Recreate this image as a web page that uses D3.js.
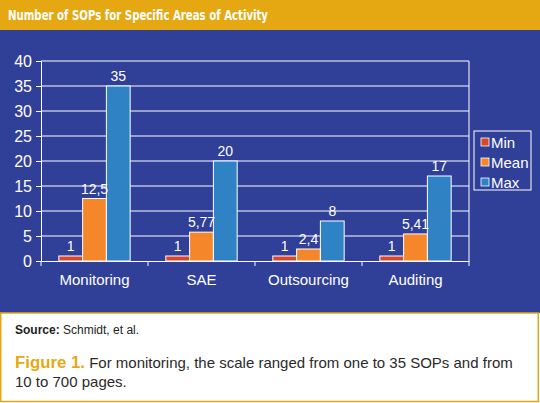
<!DOCTYPE html>
<html>
<head>
<meta charset="utf-8">
<script src="https://cdn.jsdelivr.net/npm/d3@7"></script>
<style>
  body { margin: 0; background: #fff; }
  svg { display: block; }
</style>
</head>
<body>
<div id="chart"></div>
<script>

// Data
var categories = ["Monitoring", "SAE", "Outsourcing", "Auditing"];
var seriesNames = ["Min", "Mean", "Max"];
var minValues = [1, 1, 1, 1];
var meanValues = [12.5, 5.77, 2.4, 5.41];
var maxValues = [35, 20, 8, 17];
var yTicks = [0, 5, 10, 15, 20, 25, 30, 35, 40];

var W = 540, H = 403;
var gold = "#e6a812";
var navy = "#303f98";
var colors = ["#d9472b", "#f5862a", "#2f82c4"];

var svg = d3.select("#chart").append("svg")
  .attr("width", W)
  .attr("height", H);

// Background panels
svg.append("rect").attr("x", 0).attr("y", 0).attr("width", W).attr("height", 30).attr("fill", gold);
svg.append("rect").attr("x", 0).attr("y", 30).attr("width", W).attr("height", 283).attr("fill", navy);
svg.append("rect").attr("x", 0.75).attr("y", 313).attr("width", W - 2.5).attr("height", H - 314.5)
  .attr("fill", "#fff").attr("stroke", gold).attr("stroke-width", 1.5);

// Title
svg.append("text")
  .attr("x", 8).attr("y", 20)
  .attr("fill", "#fff")
  .attr("textLength", 260)
  .attr("lengthAdjust", "spacingAndGlyphs")
  .style("font-family", "'DejaVu Sans Condensed', 'Liberation Sans', sans-serif")
  .style("font-weight", "bold")
  .style("font-size", "14px")
  .text("Number of SOPs for Specific Areas of Activity");

// Plot area
var plotLeft = 41, plotRight = 469, plotTop = 61, plotBottom = 261;

var x0 = d3.scaleBand().domain(categories).range([plotLeft, plotRight]).padding(0);
var x1 = d3.scaleBand().domain(seriesNames).range([0, x0.bandwidth()]).paddingInner(0).paddingOuter(0.75);
var y = d3.scaleLinear().domain([0, 40]).range([plotBottom, plotTop]);

var g = svg.append("g");

// Gridlines
g.selectAll("line.grid")
  .data(yTicks.filter(function(d) { return d > 0; }))
  .enter().append("line")
  .attr("class", "grid")
  .attr("x1", plotLeft).attr("x2", plotRight)
  .attr("y1", function(d) { return y(d); })
  .attr("y2", function(d) { return y(d); })
  .attr("stroke", "#fff").attr("stroke-width", 1);

// Right border of plot
g.append("line")
  .attr("x1", plotRight).attr("x2", plotRight).attr("y1", plotTop).attr("y2", plotBottom)
  .attr("stroke", "#fff");

// Y axis
var yAxis = d3.axisLeft(y).tickValues(yTicks).tickSize(5).tickPadding(4);
var yG = svg.append("g").attr("transform", "translate(" + plotLeft + ",0)").call(yAxis);
yG.select(".domain").attr("stroke", "#fff");
yG.selectAll(".tick line").attr("stroke", "#fff");
yG.selectAll(".tick text")
  .attr("fill", "#fff")
  .style("font-family", "'Liberation Sans', Arial, sans-serif")
  .style("font-size", "16px");

// X axis
var xAxis = d3.axisBottom(x0).tickSize(0).tickPadding(13);
var xG = svg.append("g").attr("transform", "translate(0," + plotBottom + ")").call(xAxis);
xG.select(".domain").attr("stroke", "#fff");
xG.selectAll(".tick text")
  .attr("fill", "#fff")
  .style("font-family", "'Liberation Sans', Arial, sans-serif")
  .style("font-size", "15px");

// Category separators below axis
var edges = categories.map(function(c) { return x0(c); }).concat([plotRight]);
xG.selectAll("line.sep")
  .data(edges)
  .enter().append("line")
  .attr("class", "sep")
  .attr("x1", function(d) { return d; }).attr("x2", function(d) { return d; })
  .attr("y1", 0).attr("y2", 5)
  .attr("stroke", "#fff");

// Bars
var series = [minValues, meanValues, maxValues];
var rows = categories.map(function(c, i) {
  return { cat: c, vals: seriesNames.map(function(s, j) { return { name: s, value: series[j][i], idx: j }; }) };
});

var groups = svg.selectAll("g.cat")
  .data(rows)
  .enter().append("g")
  .attr("class", "cat")
  .attr("transform", function(d) { return "translate(" + x0(d.cat) + ",0)"; });

groups.selectAll("rect")
  .data(function(d) { return d.vals; })
  .enter().append("rect")
  .attr("x", function(d) { return x1(d.name); })
  .attr("width", x1.bandwidth())
  .attr("y", function(d) { return y(d.value); })
  .attr("height", function(d) { return plotBottom - y(d.value); })
  .attr("fill", function(d) { return colors[d.idx]; })
  .attr("stroke", "#fff")
  .attr("stroke-width", 1);

groups.selectAll("text.lbl")
  .data(function(d) { return d.vals; })
  .enter().append("text")
  .attr("class", "lbl")
  .attr("x", function(d) { return x1(d.name) + x1.bandwidth() / 2; })
  .attr("y", function(d) { return y(d.value) - 5; })
  .attr("text-anchor", "middle")
  .attr("fill", "#fff")
  .style("font-family", "'Liberation Sans', Arial, sans-serif")
  .style("font-size", "14px")
  .text(function(d) { return String(d.value).replace(".", ","); });

// Legend
var legend = svg.append("g").attr("transform", "translate(474,131)");
legend.append("rect")
  .attr("x", 0).attr("y", 0).attr("width", 57).attr("height", 59)
  .attr("fill", "none").attr("stroke", "#fff");
var items = legend.selectAll("g.item")
  .data(seriesNames)
  .enter().append("g")
  .attr("class", "item")
  .attr("transform", function(d, i) { return "translate(7," + (11 + i * 20) + ")"; });
items.append("rect")
  .attr("x", 0).attr("y", -4).attr("width", 8).attr("height", 8)
  .attr("fill", function(d, i) { return colors[i]; })
  .attr("stroke", "#fff").attr("stroke-width", 0.8);
items.append("text")
  .attr("x", 10).attr("y", 6)
  .attr("fill", "#fff")
  .style("font-family", "'Liberation Sans', Arial, sans-serif")
  .style("font-size", "15px")
  .text(function(d) { return d; });

// Footer
var src = svg.append("text")
  .attr("x", 15).attr("y", 334)
  .attr("fill", "#222")
  .style("font-family", "'Liberation Sans', Arial, sans-serif")
  .style("font-size", "12px");
src.append("tspan").style("font-weight", "bold").text("Source:");
src.append("tspan").text(" Schmidt, et al.");

var cap = svg.append("text")
  .attr("x", 15).attr("y", 368)
  .attr("fill", "#2a2a2a")
  .style("font-family", "'Liberation Sans', Arial, sans-serif")
  .style("font-size", "15px");
cap.append("tspan").attr("fill", gold).style("font-weight", "bold").style("font-size", "16px")
  .attr("textLength", 70).attr("lengthAdjust", "spacingAndGlyphs").text("Figure 1.");
cap.append("tspan").text(" For monitoring, the scale ranged from one to 35 SOPs and from");
cap.append("tspan").attr("x", 15).attr("y", 387).text("10 to 700 pages.");

</script>
</body>
</html>
